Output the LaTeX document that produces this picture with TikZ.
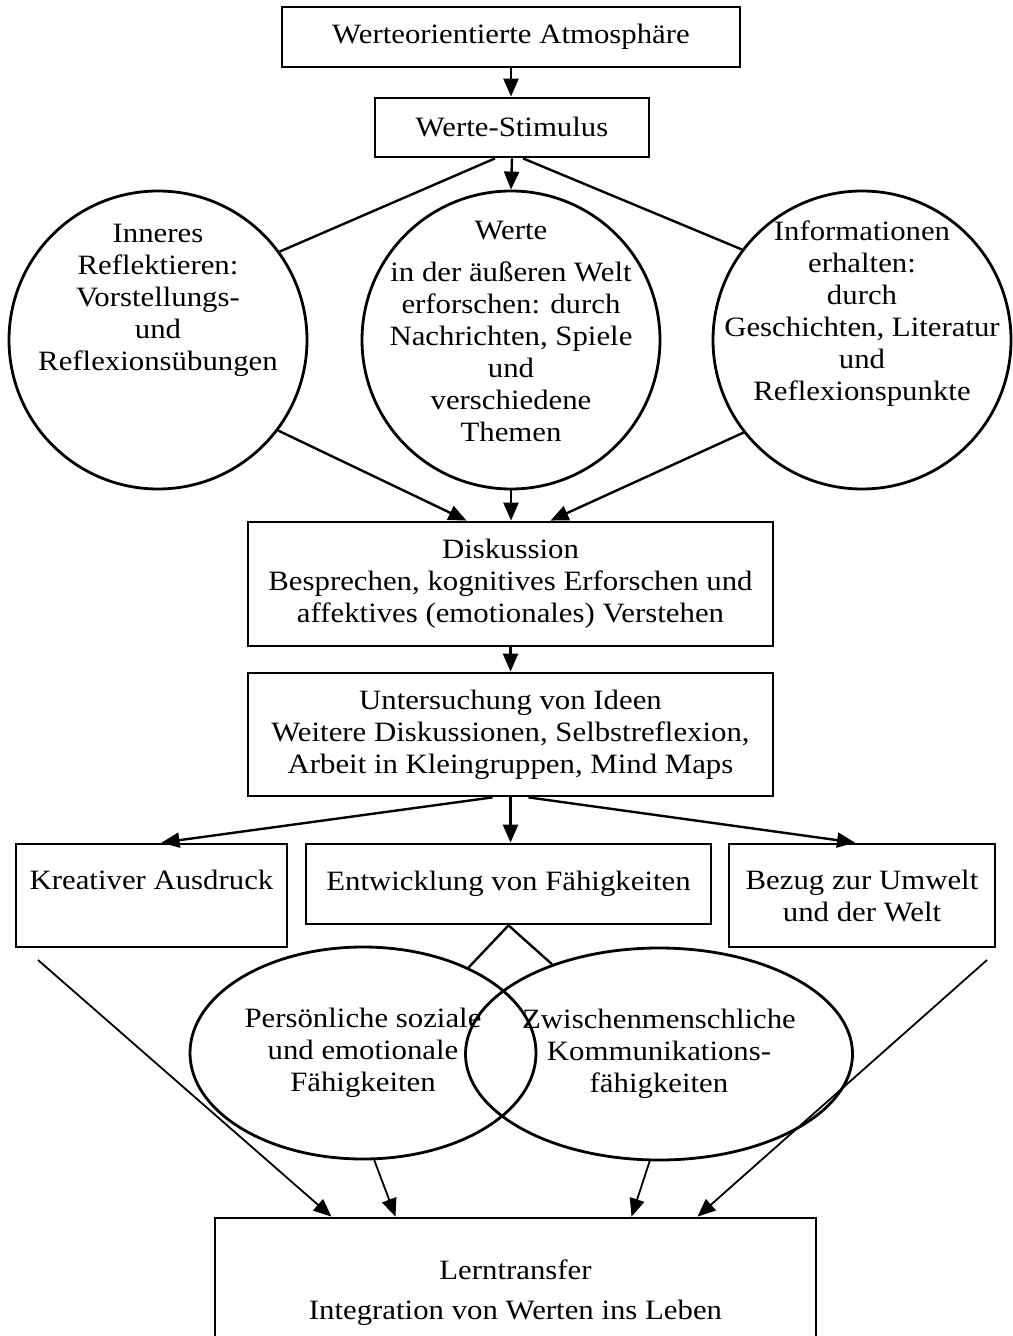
\documentclass[tikz,border=0pt]{standalone}
\usepackage{fontspec}
\setmainfont[FakeStretch=1.1]{Liberation Serif}
\usetikzlibrary{arrows.meta, shapes.geometric}

\tikzset{
    box/.style={draw, line width=1.4pt, align=center, inner sep=0pt},
    rund/.style={draw, circle, line width=1.4pt, minimum size=149pt, inner sep=0pt},
    oval/.style={draw, ellipse, line width=1.4pt, align=center, inner sep=0pt,
                 minimum width=173pt, minimum height=106pt},
    txt/.style={align=center, inner sep=0pt},
    pfeil/.style={-{Triangle[length=9pt, width=7.5pt]}, line width=1.2pt},
    strich/.style={line width=1.2pt},
}

\begin{document}
\begin{tikzpicture}[x=0.5pt, y=-0.5pt, font=\fontsize{14}{16}\selectfont]
    \useasboundingbox (0,0) rectangle (1012,1336);

    % Top
    \node[box, minimum width=229pt, minimum height=30pt] (atm) at (511,37) {Werteorientierte Atmosphäre};
    \node[box, minimum width=137pt, minimum height=29.5pt] (stim) at (512,127.5) {Werte-Stimulus};

    % Circles
    \node[rund] (lc) at (158,340) {};
    \node[rund] (mc) at (511,340) {};
    \node[rund] (rc) at (862,340) {};
    \node[txt, anchor=north] (lct) at (158,224) {Inneres\\Reflektieren:\\Vorstellungs-\\und\\Reflexionsübungen};
    \node[txt, anchor=north] (mct) at (511,221) {Werte\\[5pt]in der äußeren Welt\\erforschen: durch\\Nachrichten, Spiele\\und\\verschiedene\\Themen};
    \node[txt, anchor=north] (rct) at (862,220) {Informationen\\erhalten:\\durch\\Geschichten, Literatur\\und\\Reflexionspunkte};

    % Middle boxes
    \node[box, minimum width=262.5pt, minimum height=62pt] (disk) at (510.5,584) {Diskussion\\Besprechen, kognitives Erforschen und\\affektives (emotionales) Verstehen};
    \node[box, minimum width=262.5pt, minimum height=61.5pt] (unt) at (510.5,734.5) {Untersuchung von Ideen\\Weitere Diskussionen, Selbstreflexion,\\Arbeit in Kleingruppen, Mind Maps};

    % Row of three
    \node[box, minimum width=135.5pt, minimum height=51.5pt] (kre) at (151.5,895.5) {Kreativer Ausdruck\\\mbox{}};
    \node[box, minimum width=202.5pt, minimum height=40pt] (ent) at (508.5,884) {Entwicklung von Fähigkeiten};
    \node[box, minimum width=133pt, minimum height=51.5pt] (bez) at (862,895.5) {Bezug zur Umwelt\\und der Welt};

    % Skills
    \node[oval] (le) at (363,1053) {Persönliche soziale\\und emotionale\\Fähigkeiten};
    \node[oval] (re) at (659,1054) {Zwischenmenschliche\\Kommunikations-\\fähigkeiten};

    % Bottom
    \node[box, minimum width=300.5pt, minimum height=75pt] (lern) at (515.5,1293) {Lerntransfer\\[4pt]Integration von Werten ins Leben};

    % Arrows
    \draw[pfeil] (atm.south) -- (atm.south |- stim.north);
    \draw[strich] ([xshift=-8.5pt]stim.south) -- (lc.36);
    \draw[pfeil] (stim.south) -- (mc.north);
    \draw[strich] ([xshift=5.5pt]stim.south) -- (rc.143);

    \draw[pfeil] (lc.-37) -- ([xshift=-22pt]disk.north);
    \draw[pfeil] (mc.south) -- (mc.south |- disk.north);
    \draw[pfeil] (rc.-142) -- ([xshift=20pt]disk.north);
    \draw[pfeil] (disk.south) -- (unt.north);

    \draw[pfeil] ([xshift=-9pt]unt.south) -- ([xshift=5pt]kre.north);
    \draw[pfeil] (unt.south) -- (unt.south |- ent.north);
    \draw[pfeil] ([xshift=9pt]unt.south) -- ([xshift=-3.5pt]bez.north);

    \draw[strich] (le.39) -- (ent.south) -- (re.140);

    % Into Lerntransfer
    \coordinate (kout) at (38,960);
    \coordinate (bout) at (987,960);
    \draw[pfeil, line width=0.9pt] (kout) -- ([xshift=-92pt]lern.north);
    \draw[pfeil, line width=0.9pt] (le.-84) -- ([xshift=-60pt]lern.north);
    \draw[pfeil, line width=0.9pt] (re.-95) -- ([xshift=58pt]lern.north);
    \draw[pfeil, line width=0.9pt] (bout) -- ([xshift=91pt]lern.north);
\end{tikzpicture}
\end{document}
